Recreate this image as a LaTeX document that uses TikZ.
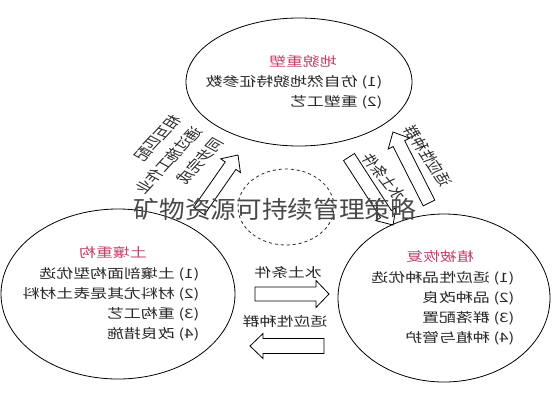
\documentclass[tikz,border=0pt]{standalone}
\usepackage{fontspec}
\newfontfamily\cjk{Noto Sans CJK SC}
\usetikzlibrary{shapes.geometric,calc}
\definecolor{headred}{RGB}{196,64,104}
\definecolor{ink}{RGB}{40,40,40}
\newcommand{\fatarrow}[4]{% tail, tip, half shaft, half head
	\coordinate (neck) at ($(#2)!13pt!(#1)$);
	\draw[fat] ($(#1)!#3!90:(#2)$) -- ($(neck)!#3!90:(#2)$) -- ($(neck)!#4!90:(#2)$) -- (#2)
	-- ($(neck)!#4!-90:(#2)$) -- ($(neck)!#3!-90:(#2)$) -- ($(#1)!#3!-90:(#2)$) -- cycle;}

\begin{document}
\begin{tikzpicture}[x=1pt,y=-1pt,
	zone/.style={ellipse,draw=black,line width=0.8pt,inner sep=0pt},
	flipped/.style={xscale=-1.3,font=\cjk\fontsize{13}{20}\selectfont,text=ink,inner sep=0pt},
	zonehead/.style={flipped,text=headred},
	items/.style={flipped,align=left},
	fat/.style={draw=black,line width=0.8pt,line join=miter}]
	\useasboundingbox (0,0) rectangle (552,400);
	\node[zone,minimum width=226pt,minimum height=128pt] (landform) at (299,82) {};
	\node[zone,minimum width=234pt,minimum height=170pt] (soil) at (118,294) {};
	\node[zone,minimum width=212pt,minimum height=168pt] (veg) at (444,298) {};
	\node[ellipse,draw=ink,dashed,line width=0.8pt,minimum width=96pt,minimum height=76pt] (core) at (286,207) {};
	%
	\node[zonehead] (landhead) at (303,62) {地貌重塑};
	\node[items] (landitems) at (294,92) {(1) 仿自然地貌特征参数\\(2) 重塑工艺};
	\node[zonehead] (soilhead) at (113,253) {土壤重构};
	\node[items] (soilitems) at (111,304) {(1) 土壤剖面构型优选\\(2) 材料尤其是表土材料\\(3) 重构工艺\\(4) 改良措施};
	\node[zonehead] (veghead) at (440,257) {植被恢复};
	\node[items] (vegitems) at (443,308) {(1) 适应性品种优选\\(2) 品种改良\\(3) 群落配置\\(4) 种植与管护};
	%
	\coordinate (s1) at (199,211); \coordinate (t1) at (238,155);
	\coordinate (s2) at (349,157); \coordinate (t2) at (393,225);
	\coordinate (s3) at (429,203); \coordinate (t3) at (393,132);
	\coordinate (s4) at (255,294); \coordinate (t4) at (329,294);
	\coordinate (s5) at (324,346); \coordinate (t5) at (250,346);
	\fatarrow{s1}{t1}{6.5pt}{12pt}
	\fatarrow{s2}{t2}{6.5pt}{12pt}
	\fatarrow{s3}{t3}{6.5pt}{12pt}
	\fatarrow{s4}{t4}{7pt}{13.5pt}
	\fatarrow{s5}{t5}{7.5pt}{12.5pt}
	%
	\node[items,rotate=-54.5] (matchlabel) at (169,160) {相互匹配\\通过施工作业\\同步完成};
	\node[flipped,rotate=58.5] (waterslope) at (384,177) {水土条件};
	\node[flipped,rotate=63] (speciesslope) at (428,156) {适应性种群};
	\node[flipped] (waterlabel) at (288,273) {水土条件};
	\node[flipped] (specieslabel) at (285,322) {适应性种群};
	%
	\node[font=\cjk\fontsize{24}{24}\selectfont,text=ink!85,xscale=1.07,inner sep=0pt] (title) at (275,209) {矿物资源可持续管理策略};
\end{tikzpicture}
\end{document}
